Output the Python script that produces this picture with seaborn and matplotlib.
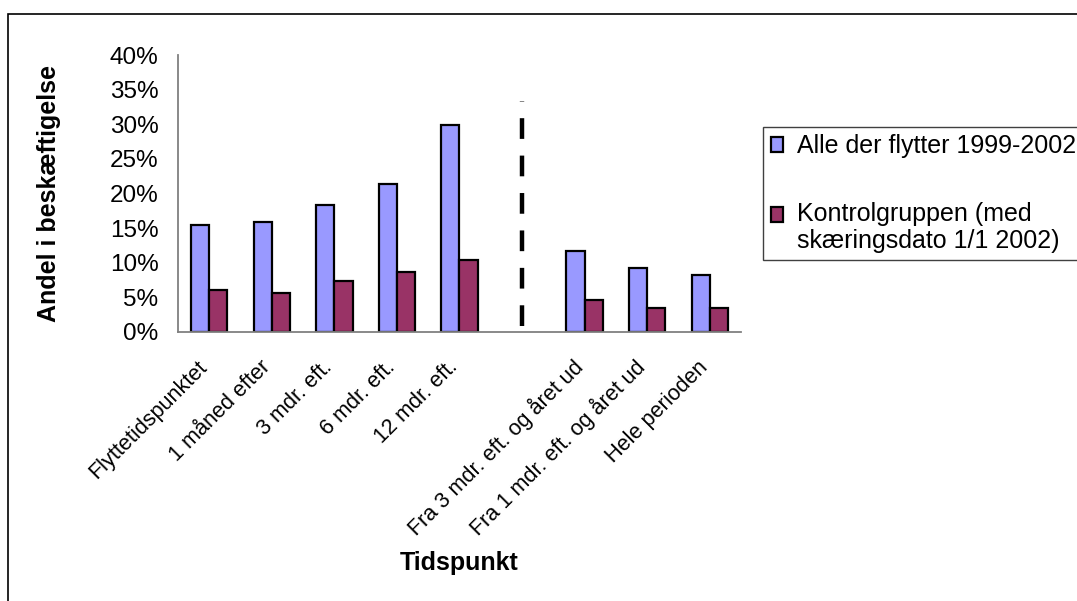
import matplotlib
matplotlib.use("Agg")
import matplotlib.pyplot as plt
from matplotlib.patches import Rectangle
from matplotlib.legend_handler import HandlerPatch
from matplotlib.ticker import PercentFormatter, FixedLocator
from matplotlib.transforms import ScaledTranslation
import numpy as np
import pandas as pd
import seaborn as sns

# --- data -------------------------------------------------------------
categories = [
    "Flyttetidspunktet",
    "1 måned efter",
    "3 mdr. eft.",
    "6 mdr. eft.",
    "12 mdr. eft.",
    "Fra 3 mdr. eft. og året ud",
    "Fra 1 mdr. eft. og året ud",
    "Hele perioden",
]
series_names = [
    "Alle der flytter 1999-2002",
    "Kontrolgruppen (med\nskæringsdato 1/1 2002)",
]
alle_values = [15.4, 15.9, 18.3, 21.4, 29.9, 11.7, 9.3, 8.2]      # percent
kontrol_values = [6.0, 5.6, 7.3, 8.7, 10.4, 4.6, 3.5, 3.5]      # percent
y_ticks = [0, 5, 10, 15, 20, 25, 30, 35, 40]

# blank slot separating point-in-time measures from period measures
gap_position = 5
divider_bottom, divider_top = 0.9, 33.4

colors = ["#9999FF", "#993366"]

order = categories[:gap_position] + [""] + categories[gap_position:]

df = pd.DataFrame({
    "Tidspunkt": categories * 2,
    "Gruppe": [series_names[0]] * len(categories) + [series_names[1]] * len(categories),
    "Andel": alle_values + kontrol_values,
})

# --- style ------------------------------------------------------------
sns.set_style("white")
plt.rcParams["font.family"] = ["Liberation Sans", "DejaVu Sans"]
plt.rcParams.update({
    "text.color": "black",
    "axes.labelcolor": "black",
    "xtick.color": "black",
    "ytick.color": "black",
})

W, H = 1077, 601
fig = plt.figure(figsize=(W / 100, H / 100), dpi=100)
ax = fig.add_axes([178 / W, 1 - 332 / H, (741 - 178) / W, (332 - 55) / H])

sns.barplot(
    data=df, x="Tidspunkt", y="Andel", hue="Gruppe",
    order=order, hue_order=series_names,
    palette=dict(zip(series_names, colors)), saturation=1,
    width=0.58, gap=0, edgecolor="black", linewidth=1.6,
    legend=False, ax=ax,
)

# dashed separator in the blank slot
sep, = ax.plot([gap_position, gap_position], [divider_bottom, divider_top],
               color="black", lw=3.2, solid_capstyle="butt", dash_capstyle="butt")
sep.set_dashes([4.66, 3.76])

# --- axes -------------------------------------------------------------
ax.set_xlim(-0.5, len(order) - 0.5)
ax.set_ylim(0, 40)
ax.set_yticks(y_ticks)
ax.yaxis.set_major_formatter(PercentFormatter(100, decimals=0))
ax.tick_params(axis="y", length=5, width=1, color="#404040", pad=9,
               labelsize=17.5, labelcolor="black")

ax.set_xticks(range(len(order)))
ax.set_xticklabels(order)
ax.xaxis.set_minor_locator(FixedLocator(np.arange(-0.5, len(order), 1.0)))
ax.tick_params(axis="x", which="major", length=0, pad=23, labelsize=15.6,
               labelcolor="black")
ax.tick_params(axis="x", which="minor", length=4.5, width=1, color="#404040", direction="out")
shift_left = ScaledTranslation(-5 / 100, 0, fig.dpi_scale_trans)
for lbl in ax.get_xticklabels():
    lbl.set_rotation(45)
    lbl.set_ha("right")
    lbl.set_va("center")
    lbl.set_rotation_mode("anchor")
    lbl.set_transform(lbl.get_transform() + shift_left)

for side in ("top", "right"):
    ax.spines[side].set_visible(False)
for side in ("left", "bottom"):
    ax.spines[side].set_color("#808080")
    ax.spines[side].set_linewidth(1.3)

ax.set_ylabel("Andel i beskæftigelse", fontsize=18, fontweight="bold")
ax.yaxis.set_label_coords(-0.208, 0.5)
ax.set_xlabel("Tidspunkt", fontsize=18, fontweight="bold", va="center")
ax.xaxis.set_label_coords(0.5, -0.833)


# --- legend -----------------------------------------------------------
class SquareHandler(HandlerPatch):
    def __init__(self, dy=0.0, **kw):
        super().__init__(**kw)
        self.dy = dy

    def create_artists(self, legend, orig_handle, xdescent, ydescent,
                       width, height, fontsize, trans):
        p = Rectangle((-xdescent, -ydescent + self.dy), width, height,
                      facecolor=orig_handle.get_facecolor(),
                      edgecolor="black", lw=1.6, transform=trans)
        return [p]


handles = [Rectangle((0, 0), 1, 1, facecolor=c) for c in colors]
leg = ax.legend(
    handles, series_names,
    handler_map={handles[0]: SquareHandler(0.0), handles[1]: SquareHandler(10.0)},
    loc="upper left", bbox_to_anchor=(763 / W, 1 - 127 / H),
    bbox_transform=fig.transFigure, borderaxespad=0, borderpad=0.3,
    handlelength=0.5, handleheight=0.55, handletextpad=0.55,
    labelspacing=1.75, fontsize=18, frameon=True, fancybox=False,
    framealpha=1, edgecolor="#404040",
)
leg.get_frame().set_linewidth(1.0)
for t in leg.get_texts():
    t.set_linespacing(1.12)
    t.set_color("black")

# chart-area border
fig.patches.append(Rectangle((8 / W, -0.1), 1.5, (1 - 14 / H) + 0.1,
                             transform=fig.transFigure, fill=False,
                             edgecolor="black", lw=1.2))

fig.savefig("out.png", dpi=100)
